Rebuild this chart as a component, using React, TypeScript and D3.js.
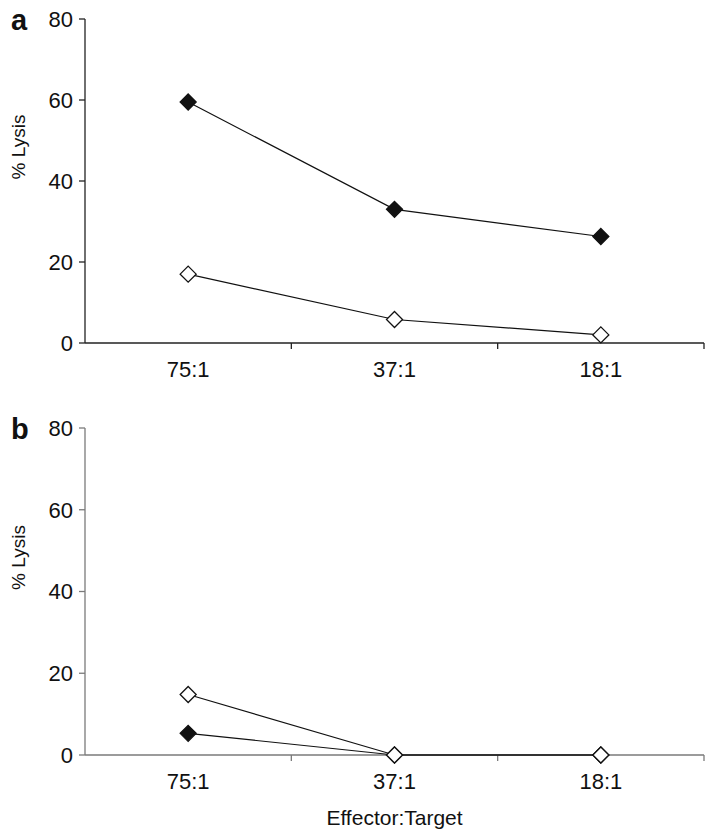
import * as d3 from 'd3'

// Effector:Target ratios on the x axis
const ratios = ['75:1', '37:1', '18:1']
const yTicks = [0, 20, 40, 60, 80]

// panel a
const aFilled = [59.5, 33, 26.3]
const aOpen = [17, 5.8, 2]
// panel b
const bFilled = [5.3, 0, 0]
const bOpen = [14.8, 0, 0]

const W = 714
const H = 838
const left = 85
const right = 704
const font = '"Liberation Sans", Arial, Helvetica, sans-serif'

type PanelProps = {
  letter: string
  top: number
  bottom: number
  filled: number[]
  open: number[]
  axisColor: string
}

const diamond = (cx: number, cy: number, r: number) =>
  `M${cx},${cy - r}L${cx + r},${cy}L${cx},${cy + r}L${cx - r},${cy}Z`

function Panel({ letter, top, bottom, filled, open, axisColor }: PanelProps) {
  const x = d3.scaleBand<string>().domain(ratios).range([left, right])
  const y = d3.scaleLinear().domain([0, 80]).range([bottom, top])
  const cx = (c: string) => x(c)! + x.bandwidth() / 2
  const line = d3
    .line<number>()
    .x((_, i) => cx(ratios[i]))
    .y((d) => y(d))

  const series = [
    { data: filled, fill: '#111' },
    { data: open, fill: '#fff' },
  ]

  const bounds = [...ratios.map((c) => x(c)!).slice(1), right]

  return (
    <g>
      <text x={11} y={top + 11} fontSize={29} fontWeight="bold" fill="#111">
        {letter}
      </text>
      {/* y axis */}
      <line x1={left} x2={left} y1={top} y2={bottom} stroke={axisColor} strokeWidth={1.3} />
      {yTicks.map((t) => (
        <g key={t}>
          <line x1={left - 6} x2={left} y1={y(t)} y2={y(t)} stroke={axisColor} strokeWidth={1.3} />
          <text x={left - 12} y={y(t)} dy="0.36em" textAnchor="end" fontSize={22} fill="#111">
            {t}
          </text>
        </g>
      ))}
      <text
        transform={`translate(25,${(top + bottom) / 2 - 34}) rotate(-90)`}
        textAnchor="middle"
        fontSize={19}
        fill="#111"
      >
        % Lysis
      </text>
      {/* x axis */}
      <line x1={left} x2={right} y1={bottom} y2={bottom} stroke={axisColor} strokeWidth={1.3} />
      {bounds.map((b, i) => (
        <line key={i} x1={b} x2={b} y1={bottom} y2={bottom + 6} stroke={axisColor} strokeWidth={1.3} />
      ))}
      {ratios.map((c) => (
        <text key={c} x={cx(c)} y={bottom + 34} textAnchor="middle" fontSize={22} fill="#111">
          {c}
        </text>
      ))}
      {series.map((s, k) => (
        <g key={k}>
          <path d={line(s.data) ?? ''} fill="none" stroke="#111" strokeWidth={1.2} />
          {s.data.map((v, i) => (
            <path
              key={i}
              d={diamond(cx(ratios[i]), y(v), 8)}
              fill={s.fill}
              stroke="#111"
              strokeWidth={1.3}
            />
          ))}
        </g>
      ))}
    </g>
  )
}

export default function App() {
  return (
    <svg
      width={W}
      height={H}
      style={{ position: 'absolute', left: 0, top: 0, fontFamily: font, background: '#fff' }}
    >
      <rect width={W} height={H} fill="#fff" />
      <Panel letter="a" top={19} bottom={343} filled={aFilled} open={aOpen} axisColor="#222" />
      <Panel letter="b" top={428} bottom={755} filled={bFilled} open={bOpen} axisColor="#7a7a7a" />
      <text x={(left + right) / 2} y={825} textAnchor="middle" fontSize={21} fill="#111">
        Effector:Target
      </text>
    </svg>
  )
}
